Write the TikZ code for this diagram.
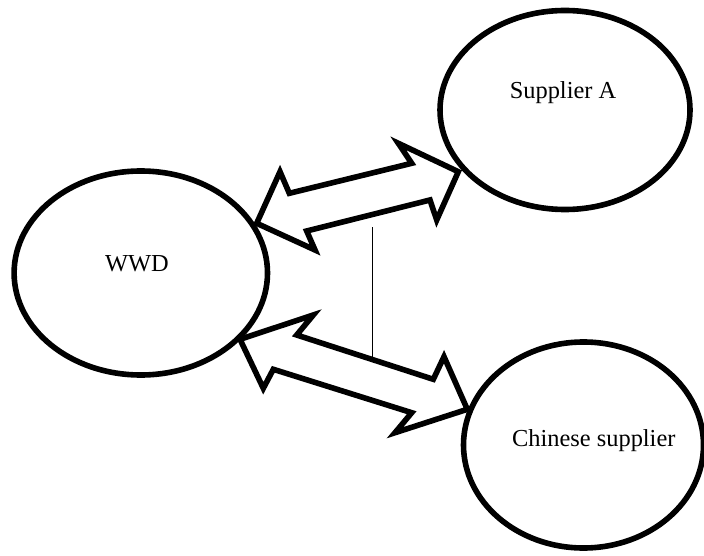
\documentclass[tikz,border=0pt]{standalone}
\usepackage{fontspec}
\setmainfont{Liberation Serif}
\usetikzlibrary{shapes.geometric}
\begin{document}
\begin{tikzpicture}[x=0.5pt,y=-0.5pt,
  party/.style={draw,line width=2.8pt,ellipse,inner sep=0pt},
  partyname/.style={font=\fontsize{12.2pt}{14pt}\selectfont,anchor=base,inner sep=0pt},
  blockarrow/.style={draw,line width=2.8pt,line join=miter},
  divider/.style={draw,line width=0.6pt}]
\useasboundingbox (0,0) rectangle (704,555);
% the three parties
\node[party,minimum width=126.7pt,minimum height=102pt] (wwd) at (140.8,273) {};
\node[party,minimum width=125pt,minimum height=99.5pt] (supa) at (565,110) {};
\node[party,minimum width=120pt,minimum height=103pt] (china) at (583.5,445) {};
\node[partyname] (wwdtxt) at (137,271.7) {WWD};
\node[partyname] (supatxt) at (563,98.3) {Supplier A};
\node[partyname] (chinatxt) at (593.8,446.7) {Chinese supplier};
% two-way arrow WWD <-> Supplier A
\path[blockarrow] (256.7,223.3) -- (280,171.7) -- (289.3,193.3) -- (411.7,163.3)
  -- (398.3,143.3) -- (458.3,171.7) -- (436.7,220) -- (430,200)
  -- (306.7,231) -- (315,250) -- cycle;
% two-way arrow WWD <-> Chinese supplier
\path[blockarrow] (240,339.3) -- (313.3,315) -- (296.7,335) -- (433.3,379.3)
  -- (444,356.7) -- (467.3,409.3) -- (395,432.7) -- (411.7,412.7)
  -- (273.3,369.3) -- (263.3,388.3) -- cycle;
% thin line between the arrows
\coordinate (divtop) at (372.3,227.3);
\coordinate (divbot) at (372.3,356.7);
\path[divider] (divtop) -- (divbot);
\end{tikzpicture}
\end{document}
